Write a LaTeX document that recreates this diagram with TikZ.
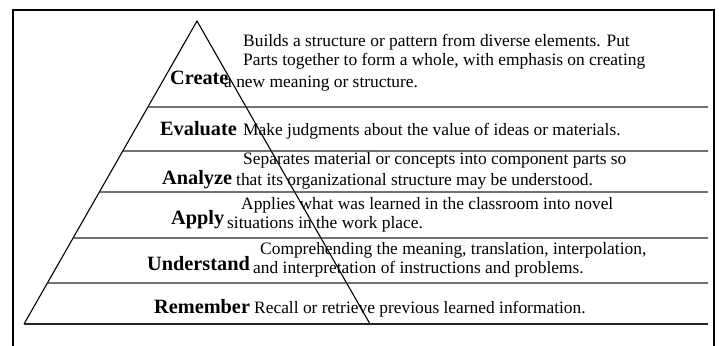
\documentclass[tikz,border=0pt]{standalone}
\usepackage{fontspec}
\setmainfont{Liberation Serif}
\usetikzlibrary{calc}
\tikzset{
  frameline/.style={line width=1.7pt, draw=black},
  tierline/.style={line width=1.2pt, draw=black!85},
  sideline/.style={line width=1.1pt, draw=black},
  level/.style={anchor=base west, inner sep=0pt, font=\fontsize{20.3}{22}\selectfont\bfseries},
  desc/.style={anchor=base west, inner sep=0pt, font=\fontsize{17.4}{19}\selectfont}
}
\begin{document}
\begin{tikzpicture}[x=1pt,y=-1pt]
\useasboundingbox (0,0) rectangle (719,345);
\clip (0,0) rectangle (719,345);
\fill[white] (0,0) rectangle (719,345);

% outer frame, open at the bottom
\draw[frameline] (13,360) -- (13,10) -- (714,10) -- (714,360);

% pyramid
\coordinate (apex) at (197,21);
\coordinate (bl) at (24,324);
\coordinate (br) at (370,324);
\coordinate (rend) at (708,324);
\draw[sideline] (bl) -- (apex) -- (br);

% tier separators, starting on the left side of the pyramid
\foreach \t/\y/\n in {0.2838/107/a, 0.4290/151/b, 0.5644/192/c, 0.7162/238/d, 0.8647/283/e}{
  \coordinate (s\n) at ($(apex)!\t!(bl)$);
  \coordinate (r\n) at (708,\y);
  \draw[tierline] (s\n) -- (r\n);
}
\draw[tierline] (bl) -- (rend);

% level names
\node[level] (create) at (170,84) {Create};
\node[level] (evaluate) at (160,135) {Evaluate};
\node[level] (analyze) at (162,184) {Analyze};
\node[level] (apply) at (171,224) {Apply};
\node[level] (understand) at (147,270) {Understand};
\node[level] (remember) at (154,313) {Remember};

% descriptions
\node[desc] (cr1) at (243,46) {Builds a structure or pattern from diverse elements. Put};
\node[desc] (cr2) at (243,66) {Parts together to form a whole, with emphasis on creating};
\node[desc] (cr3) at (224,87) {a new meaning or structure.};
\node[desc] (ev1) at (243,135) {Make judgments about the value of ideas or materials.};
\node[desc] (an1) at (243,164) {Separates material or concepts into component parts so};
\node[desc] (an2) at (236,185) {that its organizational structure may be understood.};
\node[desc] (ap1) at (241,209) {Applies what was learned in the classroom into novel};
\node[desc] (ap2) at (227,228) {situations in the work place.};
\node[desc] (un1) at (260,254) {Comprehending the meaning, translation, interpolation,};
\node[desc] (un2) at (253,273) {and interpretation of instructions and problems.};
\node[desc] (re1) at (254,313) {Recall or retrieve previous learned information.};
\end{tikzpicture}
\end{document}
